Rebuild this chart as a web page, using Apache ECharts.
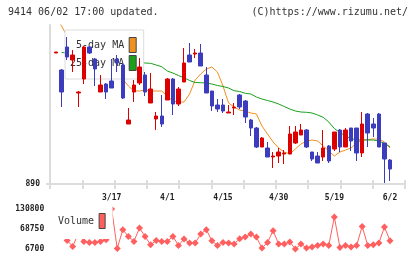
<!DOCTYPE html>
<html>
<head>
<meta charset="utf-8">
<script src="https://cdn.jsdelivr.net/npm/echarts@6/dist/echarts.min.js"></script>
<style>
html,body{margin:0;padding:0;background:#fff}
#chart{width:420px;height:259px}
</style>
</head>
<body>
<div id="chart"></div>
<script>
// 9414 daily candles, 2025/3/3 - 6/2
var dates = ['3/3','3/4','3/5','3/6','3/7','3/10','3/11','3/12','3/13','3/14',
    '3/17','3/18','3/19','3/21','3/24','3/25','3/26','3/27','3/28','3/31',
    '4/1','4/2','4/3','4/4','4/7','4/8','4/9','4/10','4/11','4/14',
    '4/15','4/16','4/17','4/18','4/21','4/22','4/23','4/24','4/25','4/28',
    '4/30','5/1','5/7','5/8','5/9','5/12','5/13','5/14','5/15','5/16',
    '5/19','5/20','5/21','5/22','5/23','5/26','5/27','5/28','5/29','5/30',
    '6/2'];

var openPx  = [1021,1004,1027,1014,981,995,1027,1015,982,990,
    993,1015,1009,950,982,991,999,971,955,958,
    974,995,970,992,1019,1020,1021,999,983,969,
    969,961,966,979,973,954,946,927,926,917,
    918,920,920,931,939,944,922,918,917,928,
    925,944,927,946,946,921,960,950,960,931,
    914];
var closePx = [1022,982,1017,1019,982,1027,1021,1005,989,982,
    986,1011,976,954,989,1007,982,985,958,950,
    995,970,985,1011,1012,1021,1008,981,968,965,
    963,962,967,967,957,946,927,936,917,918,
    922,921,940,942,944,927,915,911,926,913,
    942,927,944,933,921,950,941,946,927,915,
    905];
var lowPx   = [1021,967,1014,1002,967,990,1020,988,982,975,
    986,1002,975,950,972,989,978,971,944,947,
    974,959,968,992,1012,1016,1008,981,963,962,
    961,961,959,965,951,938,926,927,917,906,
    911,910,920,930,939,926,913,911,913,911,
    923,922,927,923,913,917,927,937,927,891,
    893];
var highPx  = [1022,1005,1037,1024,983,1028,1028,1016,999,991,
    1015,1019,1011,966,994,1016,1002,1001,962,979,
    996,996,987,1026,1031,1025,1030,1007,983,975,
    975,969,971,980,974,955,947,937,932,922,
    926,924,948,948,950,945,922,922,944,929,
    942,945,946,946,946,962,961,956,961,931,
    915];

var ma5 = [1058,1048,1038,1034,1026,1019,1014,1009,1004,1000,
    998,998,995,988,983,983,984,983,983,983,
    978,973,972,972,980,994,1000,1005,1007,1002,
    988,971,967,964,963,961,960,948,940,932,
    926,922,920,925,930,933,934,933,928,923,
    918,922,924,926,931,934,934.5,935,935,932,
    926];
var ma25 = [null,1021.5,1021,1020,1019,1018,1017,1016,1015,1014,
    1013,1013,1012,1012,1011,1011,1011,1010.7,1009,1007.3,
    1003,1001,998.5,996.3,993.5,991.5,991.3,991,990,988.5,
    987.5,986,983.3,982.5,980.7,980,977,975,973.5,972,
    970,967.5,965,963,962,961.7,961,959,956.7,952,
    945.5,941.5,938,935.5,934,934,934,934,933,930.5,
    927.3];

var volume = [51000,60400,33400,14800,54200,30300,27200,27200,30300,35600,
    130800,8000,66600,45800,30300,71900,45800,20000,33400,30300,
    30300,45800,17900,37700,25300,25300,53200,66600,32500,17900,
    27200,25300,22200,38700,43900,53200,43900,9800,27200,63500,
    22200,22200,28400,6700,22200,9800,12900,17900,22200,17900,
    106000,11700,17900,12900,17900,76800,17900,20000,25300,75000,
    32500];

var priceLabels = [890];
var volumeLabels = [6700, 68750, 130800];

var mono = 'DejaVu Sans Mono';
var RED = '#dc0000', BLUE = '#3c3cbe', ORANGE = '#f0901e', GREEN = '#1aa01a', VOL = '#ff5f5f', AXIS = '#dcdcdc';

var candles = dates.map(function (d, i) {
    return [openPx[i], closePx[i], lowPx[i], highPx[i]];
});

var myChart = echarts.init(document.getElementById('chart'));

var option = {
    animation: false,
    title: [{
        text: '9414 06/02 17:00 updated.',
        left: 8, top: 7, padding: 0,
        textStyle: {fontFamily: mono, fontSize: 10, fontWeight: 'normal', color: '#333'}
    }, {
        text: '(C)https://www.rizumu.net/',
        right: 12, top: 7, padding: 0,
        textStyle: {fontFamily: mono, fontSize: 10, fontWeight: 'normal', color: '#333'}
    }],
    legend: [{
        data: ['5-day MA', '25-day MA'],
        orient: 'vertical',
        left: 65, top: 30,
        align: 'right',
        icon: 'rect',
        itemWidth: 7, itemHeight: 15, itemGap: 2,
        padding: [7, 7, 8, 5],
        backgroundColor: '#fff',
        borderColor: AXIS, borderWidth: 1,
        selectedMode: false,
        z: 3,
        itemStyle: {borderColor: '#444', borderWidth: 1},
        formatter: function (name) { return name.length < 9 ? ' ' + name : name; },
        textStyle: {fontFamily: mono, fontSize: 10, color: '#333'}
    }, {
        data: ['Volume'],
        left: 51, top: 205,
        align: 'right',
        icon: 'rect',
        itemWidth: 6, itemHeight: 15,
        padding: [8, 7, 10, 7],
        backgroundColor: '#fff',
        selectedMode: false,
        z: 3,
        itemStyle: {borderColor: '#444', borderWidth: 1},
        textStyle: {fontFamily: mono, fontSize: 10, color: '#333'}
    }],
    grid: [
        {left: 50, right: 15, top: 25, bottom: 75},          // frame + ticks
        {left: 53.2, right: 27.2, top: 25, bottom: 75},      // candles
        {left: 53.2, right: 27.2, top: 209, height: 40}      // volume
    ],
    xAxis: [{
        gridIndex: 0, type: 'value', min: 0, max: 11, interval: 1, position: 'bottom',
        axisLine: {show: true, lineStyle: {color: AXIS, width: 2}},
        axisTick: {show: true, length: 5, lineStyle: {color: AXIS, width: 2}},
        axisLabel: {show: false},
        splitLine: {show: false}
    }, {
        gridIndex: 0, type: 'value', min: 0, max: 11, interval: 1, position: 'bottom',
        axisLine: {show: false},
        axisTick: {show: true, inside: true, length: 4, lineStyle: {color: AXIS, width: 2}},
        axisLabel: {show: false},
        splitLine: {show: false}
    }, {
        gridIndex: 1, type: 'category', data: dates, boundaryGap: true,
        axisLine: {show: false},
        axisTick: {show: false},
        axisLabel: {
            interval: function (i) { return i > 0 && i % 10 === 0; },
            margin: 10,
            fontFamily: mono, fontSize: 8, fontWeight: 'bold', color: '#222'
        },
        splitLine: {show: false}
    }, {
        gridIndex: 2, type: 'category', data: dates, boundaryGap: true, show: false
    }],
    yAxis: [{
        gridIndex: 0, type: 'value', min: 890, max: 1049,
        axisLine: {show: true, lineStyle: {color: AXIS, width: 2}},
        axisTick: {show: true, length: 4, customValues: priceLabels, lineStyle: {color: AXIS, width: 2}},
        axisLabel: {customValues: priceLabels, margin: 10, fontFamily: mono, fontSize: 8, fontWeight: 'bold', color: '#222'},
        splitLine: {show: false}
    }, {
        gridIndex: 1, type: 'value', min: 890, max: 1049, show: false
    }, {
        gridIndex: 2, type: 'value', min: 6700, max: 130800,
        axisLine: {show: false},
        axisTick: {show: false},
        axisLabel: {
            customValues: volumeLabels, margin: 9,
            formatter: function (v) { return String(v); },
            fontFamily: mono, fontSize: 8, fontWeight: 'bold', color: '#222'
        },
        splitLine: {show: false}
    }],
    series: [{
        name: '9414',
        type: 'candlestick',
        xAxisIndex: 2, yAxisIndex: 1,
        data: candles,
        barWidth: 4,
        z: 5,
        itemStyle: {color: RED, color0: BLUE, borderColor: RED, borderColor0: BLUE, borderWidth: 1}
    }, {
        name: '5-day MA',
        type: 'line',
        xAxisIndex: 2, yAxisIndex: 1,
        data: ma5,
        showSymbol: false,
        z: 2,
        lineStyle: {color: ORANGE, width: 1},
        itemStyle: {color: ORANGE}
    }, {
        name: '25-day MA',
        type: 'line',
        xAxisIndex: 2, yAxisIndex: 1,
        data: ma25,
        showSymbol: false,
        z: 2,
        lineStyle: {color: GREEN, width: 1},
        itemStyle: {color: GREEN}
    }, {
        name: 'Volume',
        type: 'line',
        xAxisIndex: 3, yAxisIndex: 2,
        data: volume,
        symbol: 'diamond',
        symbolSize: 7,
        showAllSymbol: true,
        z: 2,
        clip: false,
        lineStyle: {color: VOL, width: 1},
        itemStyle: {color: VOL}
    }]
};

myChart.setOption(option);
</script>
</body>
</html>
